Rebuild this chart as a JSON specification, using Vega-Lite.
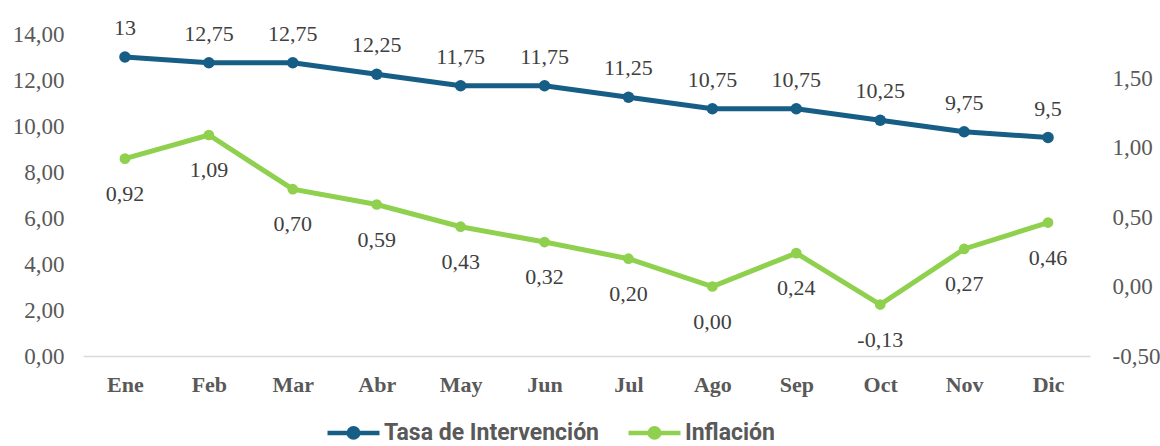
{
  "$schema": "https://vega.github.io/schema/vega-lite/v6.json",
  "width": 1007,
  "height": 322,
  "autosize": {"type": "none"},
  "padding": {"left": 83, "top": 34, "right": 70, "bottom": 90},
  "background": "white",
  "config": {
    "locale": {"number": {"decimal": ",", "thousands": ".", "grouping": [3], "currency": ["", ""], "minus": "-"}},
    "view": {"stroke": null},
    "font": "Liberation Serif"
  },
  "data": {"values": [
    {"mes": "Ene", "tasa": 13, "inflacion": 0.92},
    {"mes": "Feb", "tasa": 12.75, "inflacion": 1.09},
    {"mes": "Mar", "tasa": 12.75, "inflacion": 0.70},
    {"mes": "Abr", "tasa": 12.25, "inflacion": 0.59},
    {"mes": "May", "tasa": 11.75, "inflacion": 0.43},
    {"mes": "Jun", "tasa": 11.75, "inflacion": 0.32},
    {"mes": "Jul", "tasa": 11.25, "inflacion": 0.20},
    {"mes": "Ago", "tasa": 10.75, "inflacion": 0.00},
    {"mes": "Sep", "tasa": 10.75, "inflacion": 0.24},
    {"mes": "Oct", "tasa": 10.25, "inflacion": -0.13},
    {"mes": "Nov", "tasa": 9.75, "inflacion": 0.27},
    {"mes": "Dic", "tasa": 9.5, "inflacion": 0.46}
  ]},
  "encoding": {
    "x": {"field": "mes", "type": "nominal", "sort": null,
      "axis": {"title": null, "labelAngle": 0, "ticks": false, "domainColor": "#d9d9d9", "domainWidth": 1.5,
        "labelFont": "Liberation Serif", "labelFontSize": 22, "labelFontWeight": "bold", "labelColor": "#595959", "labelPadding": 18, "grid": false}}
  },
  "layer": [
    {
      "encoding": {
        "y": {"field": "tasa", "type": "quantitative", "scale": {"domain": [0, 14], "nice": false, "zero": false},
          "axis": {"orient": "left", "title": null, "values": [0, 2, 4, 6, 8, 10, 12, 14], "format": ".2f", "domain": false, "ticks": false, "grid": false,
            "labelFont": "Liberation Serif", "labelFontSize": 23, "labelColor": "#595959", "labelPadding": 19}}
      },
      "layer": [
        {"mark": {"type": "line", "strokeWidth": 5},
          "encoding": {"color": {"datum": "Tasa de Intervención", "type": "nominal",
            "scale": {"domain": ["Tasa de Intervención", "Inflación"], "range": ["#175e86", "#8fd14f"]},
            "legend": {"orient": "none", "direction": "horizontal", "legendX": 242, "legendY": 370, "title": null, "padding": 0,
              "symbolType": "M-1,0L1,0M-0.18,0A0.18,0.18,0,1,1,0.18,0A0.18,0.18,0,1,1,-0.18,0Z", "symbolSize": 2704, "symbolStrokeWidth": 4.5,
              "labelFont": "Roboto", "labelFontWeight": "bold", "labelFontSize": 23, "labelColor": "#595959", "labelOffset": 2, "columnPadding": 19, "labelLimit": 500,
              "encode": {"symbols": {"update": {"fill": {"scale": "color", "field": "value"}}}}}}}},
        {"mark": {"type": "point", "filled": true, "size": 133, "opacity": 1},
          "encoding": {"color": {"datum": "Tasa de Intervención", "type": "nominal"}}},
        {"mark": {"type": "text", "dy": -29, "fontSize": 22, "font": "Liberation Serif", "color": "#404040"},
          "encoding": {"text": {"field": "tasa", "type": "quantitative", "format": ".2~f"}}}
      ]
    },
    {
      "encoding": {
        "y": {"field": "inflacion", "type": "quantitative", "scale": {"domain": [-0.5, 1.8167], "nice": false, "zero": false},
          "axis": {"orient": "right", "title": null, "values": [-0.5, 0, 0.5, 1, 1.5], "format": ".2f", "domain": false, "ticks": false, "grid": false,
            "labelFont": "Liberation Serif", "labelFontSize": 23, "labelColor": "#595959", "labelPadding": 22}}
      },
      "layer": [
        {"mark": {"type": "line", "strokeWidth": 5},
          "encoding": {"color": {"datum": "Inflación", "type": "nominal"}}},
        {"mark": {"type": "point", "filled": true, "size": 115, "opacity": 1},
          "encoding": {"color": {"datum": "Inflación", "type": "nominal"}}},
        {"mark": {"type": "text", "dy": 35, "fontSize": 22, "font": "Liberation Serif", "color": "#404040"},
          "encoding": {"text": {"field": "inflacion", "type": "quantitative", "format": ".2f"}}}
      ]
    }
  ],
  "resolve": {"scale": {"y": "independent"}}
}
